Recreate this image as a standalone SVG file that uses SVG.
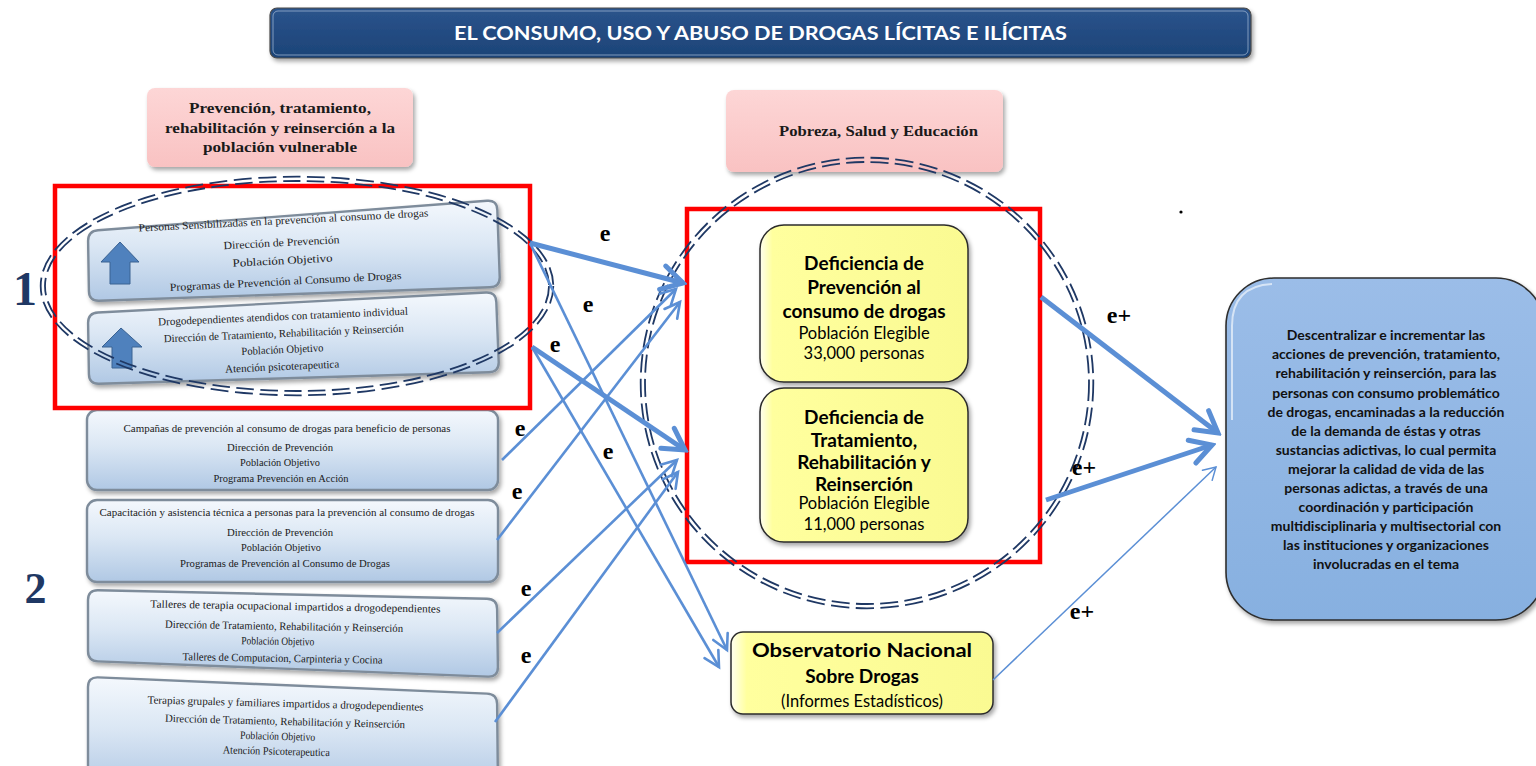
<svg xmlns="http://www.w3.org/2000/svg" width="1536" height="766" viewBox="0 0 1536 766">
<defs>
  <linearGradient id="gBox" x1="0" y1="0" x2="0" y2="1">
    <stop offset="0" stop-color="#f4f8fd"/>
    <stop offset="0.45" stop-color="#dbe7f4"/>
    <stop offset="1" stop-color="#b0c8e4"/>
  </linearGradient>
  <linearGradient id="gTitle" x1="0" y1="0" x2="0" y2="1">
    <stop offset="0" stop-color="#2b548c"/>
    <stop offset="1" stop-color="#1c4377"/>
  </linearGradient>
  <linearGradient id="gPink" x1="0" y1="0" x2="0" y2="1">
    <stop offset="0" stop-color="#fdd6d6"/>
    <stop offset="1" stop-color="#f9c2c2"/>
  </linearGradient>
  <linearGradient id="gYellow" x1="0" y1="0" x2="1" y2="0">
    <stop offset="0" stop-color="#fffff0"/>
    <stop offset="0.06" stop-color="#ffff9e"/>
    <stop offset="1" stop-color="#fafa92"/>
  </linearGradient>
  <linearGradient id="gRight" x1="0" y1="0" x2="0" y2="1">
    <stop offset="0" stop-color="#9bbde8"/>
    <stop offset="1" stop-color="#87b0e0"/>
  </linearGradient>
  <filter id="sh" x="-10%" y="-10%" width="120%" height="130%">
    <feDropShadow dx="2" dy="3" stdDeviation="2" flood-color="#000" flood-opacity="0.35"/>
  </filter>
  <marker id="aThick" viewBox="-26 -15 30 30" refX="0" refY="0" markerWidth="30" markerHeight="30" markerUnits="userSpaceOnUse" orient="auto">
    <path d="M -21,-12 L 0,0 L -21,12" fill="none" stroke="#5b8fd5" stroke-width="5" stroke-linecap="round" stroke-linejoin="miter"/>
  </marker>
  <marker id="aThin" viewBox="-20 -12 24 24" refX="0" refY="0" markerWidth="24" markerHeight="24" markerUnits="userSpaceOnUse" orient="auto">
    <path d="M -15,-8 L 0,0 L -15,8" fill="none" stroke="#5b8fd5" stroke-width="2.6" stroke-linecap="round"/>
  </marker>
  <marker id="aHair" viewBox="-16 -10 20 20" refX="0" refY="0" markerWidth="20" markerHeight="20" markerUnits="userSpaceOnUse" orient="auto">
    <path d="M -12,-7 L 0,0 L -12,7" fill="none" stroke="#5b8fd5" stroke-width="1.5" stroke-linecap="round"/>
  </marker>
</defs>
<style>
  .bx{fill:url(#gBox);stroke:#7e8c9b;stroke-width:2.4;filter:url(#sh)}
  .bt{font-family:"Liberation Serif",serif;font-size:11px;fill:#1b1b1b;text-anchor:middle}
  .red{fill:none;stroke:#ff0000;stroke-width:4.5}
  .dl{fill:none;stroke:#1f3864;stroke-width:1.8}
  .thick{stroke:#5b8fd5;stroke-width:5;fill:none;marker-end:url(#aThick)}
  .thin{stroke:#5b8fd5;stroke-width:2.6;fill:none;marker-end:url(#aThin)}
  .hair{stroke:#5b8fd5;stroke-width:1.5;fill:none;marker-end:url(#aHair)}
  .lbl{font-family:"Liberation Serif",serif;font-weight:bold;font-size:24px;fill:#000;text-anchor:middle}
  .pk{fill:url(#gPink);filter:url(#sh)}
  .pt{font-family:"Liberation Serif",serif;font-weight:bold;font-size:15px;fill:#1a1a1a;text-anchor:middle}
  .yb{fill:url(#gYellow);stroke:#2b2b2b;stroke-width:1.5;filter:url(#sh)}
  .yt{font-family:Lato,"Liberation Sans",sans-serif;font-weight:bold;font-size:19px;fill:#000;text-anchor:middle}
  .yr{font-family:Lato,"Liberation Sans",sans-serif;font-size:16.5px;fill:#000;text-anchor:middle}
  .rt{font-family:Lato,"Liberation Sans",sans-serif;font-weight:bold;font-size:14px;fill:#111;text-anchor:middle}
  .num{font-family:"Liberation Serif",serif;font-weight:bold;fill:#1f3864;text-anchor:middle}
  .up{fill:#4f81bd;stroke:#3a6292;stroke-width:1}
</style>

<rect width="1536" height="766" fill="#ffffff"/>

<g id="title">
  <rect x="270" y="8" width="981" height="50" rx="7" fill="url(#gTitle)" stroke="#4a4a4a" stroke-width="1.2" filter="url(#sh)"/>
  <rect x="273" y="11" width="975" height="44" rx="5" fill="none" stroke="#a9bdd8" stroke-width="1" opacity="0.7"/>
  <text x="760.5" y="40" font-family="Lato,'Liberation Sans',sans-serif" font-weight="bold" font-size="19px" fill="#ffffff" text-anchor="middle" textLength="613" lengthAdjust="spacingAndGlyphs">EL CONSUMO, USO Y ABUSO DE DROGAS LÍCITAS E ILÍCITAS</text>
</g>

<g id="pink-left">
  <rect class="pk" x="147" y="88" width="266" height="79" rx="8"/>
  <text class="pt" x="280" y="113" textLength="182" lengthAdjust="spacingAndGlyphs">Prevención, tratamiento,</text>
  <text class="pt" x="280" y="133" textLength="230" lengthAdjust="spacingAndGlyphs">rehabilitación y reinserción a la</text>
  <text class="pt" x="280" y="152" textLength="154" lengthAdjust="spacingAndGlyphs">población vulnerable</text>
</g>

<g id="pink-right">
  <rect class="pk" x="726" y="90" width="277" height="82" rx="8"/>
  <text class="pt" x="878.5" y="136" textLength="199" lengthAdjust="spacingAndGlyphs">Pobreza, Salud y Educación</text>
</g>

<g id="box-a">
  <path class="bx" d="M 98,230.2 L 487,200.8 Q 497,200 497.3,210 L 499.7,277 Q 500,287 490,287.3 L 99,300.7 Q 89,301 88.9,291 L 88.1,241 Q 88,231 98,230.2 Z"/>
  <polygon class="up" points="120,242 139,262 130,262 130,284 110,284 110,262 101,262"/>
  <g transform="rotate(-3 285 250)">
    <text class="bt" x="285" y="224" font-size="10.5px" textLength="290" lengthAdjust="spacingAndGlyphs">Personas  Sensibilizadas en la prevención  al consumo de drogas</text>
    <text class="bt" x="282" y="246" textLength="116" lengthAdjust="spacingAndGlyphs">Dirección de Prevención</text>
    <text class="bt" x="282" y="264" textLength="100" lengthAdjust="spacingAndGlyphs">Población Objetivo</text>
    <text class="bt" x="284" y="285" textLength="232" lengthAdjust="spacingAndGlyphs">Programas  de Prevención al Consumo de Drogas</text>
  </g>
</g>

<g id="box-b">
  <path class="bx" d="M 98,312.5 L 486,292.5 Q 496,292 496.3,302 L 498.7,362 Q 499,372 489,372.3 L 99,383.7 Q 89,384 88.9,374 L 88.1,323 Q 88,313 98,312.5 Z"/>
  <polygon class="up" points="121,328 142,347 132,347 132,368 112,368 112,347 102,347"/>
  <g transform="rotate(-2.5 285 340)">
    <text class="bt" x="284" y="320" font-size="10.5px" textLength="250" lengthAdjust="spacingAndGlyphs">Drogodependientes atendidos con tratamiento individual</text>
    <text class="bt" x="284" y="337" textLength="240" lengthAdjust="spacingAndGlyphs">Dirección de Tratamiento, Rehabilitación y Reinserción</text>
    <text class="bt" x="282" y="353" textLength="82" lengthAdjust="spacingAndGlyphs">Población Objetivo</text>
    <text class="bt" x="281" y="370" textLength="114" lengthAdjust="spacingAndGlyphs">Atención psicoterapeutica</text>
  </g>
</g>

<g id="box-c">
  <rect class="bx" x="87" y="410" width="411" height="80" rx="10"/>
  <text class="bt" x="287" y="432" textLength="327" lengthAdjust="spacingAndGlyphs">Campañas de prevención al consumo de drogas para beneficio de personas</text>
  <text class="bt" x="280" y="451" textLength="106" lengthAdjust="spacingAndGlyphs">Dirección de Prevención</text>
  <text class="bt" x="280" y="466" textLength="80" lengthAdjust="spacingAndGlyphs">Población Objetivo</text>
  <text class="bt" x="281" y="482" textLength="135" lengthAdjust="spacingAndGlyphs" fill="#333">Programa Prevención en Acción</text>
</g>

<g id="box-d">
  <rect class="bx" x="87" y="500" width="411" height="82" rx="10"/>
  <text class="bt" x="287" y="516" textLength="375" lengthAdjust="spacingAndGlyphs">Capacitación y asistencia técnica a personas para la prevención al consumo de drogas</text>
  <text class="bt" x="280" y="536" textLength="106" lengthAdjust="spacingAndGlyphs">Dirección de Prevención</text>
  <text class="bt" x="281" y="551" textLength="80" lengthAdjust="spacingAndGlyphs">Población Objetivo</text>
  <text class="bt" x="285" y="567" textLength="210" lengthAdjust="spacingAndGlyphs">Programas de Prevención al Consumo de Drogas</text>
</g>

<g id="box-e">
  <path class="bx" d="M 98,590.2 L 487,598.8 Q 497,599 497.1,609 L 497.9,667 Q 498,677 488,676.6 L 98,661.4 Q 88,661 88,651 L 88,600 Q 88,590 98,590.2 Z"/>
  <g transform="rotate(1 290 630)">
    <text class="bt" x="295" y="610" textLength="290" lengthAdjust="spacingAndGlyphs">Talleres de terapia ocupacional  impartidos a drogodependientes</text>
    <text class="bt" x="284" y="630" textLength="238" lengthAdjust="spacingAndGlyphs">Dirección de Tratamiento, Rehabilitación y Reinserción</text>
    <text class="bt" x="278" y="645" textLength="73" lengthAdjust="spacingAndGlyphs">Población Objetivo</text>
    <text class="bt" x="283" y="662" textLength="200" lengthAdjust="spacingAndGlyphs">Talleres de Computacion, Carpinteria y Cocina</text>
  </g>
</g>

<g id="box-f">
  <path class="bx" d="M 98,677.4 L 487,693.6 Q 497,694 497.1,704 L 498,790 L 88,790 L 88,687 Q 88,677 98,677.4 Z"/>
  <g transform="rotate(1.5 285 725)">
    <text class="bt" x="285" y="707" textLength="276" lengthAdjust="spacingAndGlyphs">Terapias grupales y familiares impartidos a drogodependientes</text>
    <text class="bt" x="285" y="725" textLength="240" lengthAdjust="spacingAndGlyphs">Dirección de Tratamiento, Rehabilitación y Reinserción</text>
    <text class="bt" x="278" y="740" textLength="75" lengthAdjust="spacingAndGlyphs">Población Objetivo</text>
    <text class="bt" x="277" y="755" textLength="107" lengthAdjust="spacingAndGlyphs">Atención Psicoterapeutica</text>
  </g>
</g>

<g id="group-1">
  <rect class="red" x="55" y="186" width="475" height="222"/>
  <ellipse class="dl" cx="297" cy="286" rx="256.3" ry="109.3" pathLength="1000" stroke-dasharray="15 5.5"/>
  <ellipse class="dl" cx="297" cy="286" rx="252" ry="105" pathLength="1000" stroke-dasharray="15 5.5"/>
  <text class="num" x="25" y="305" font-size="48px">1</text>
</g>

<g id="label-2">
  <text class="num" x="35.5" y="603" font-size="44px">2</text>
</g>

<g id="group-center">
  <rect class="red" x="687" y="209" width="353" height="353"/>
  <ellipse class="dl" cx="867" cy="383" rx="226.3" ry="225.3" pathLength="1000" stroke-dasharray="13 4.5"/>
  <ellipse class="dl" cx="867" cy="383" rx="222" ry="221" pathLength="1000" stroke-dasharray="13 4.5"/>
</g>

<g id="def-prevencion">
  <rect class="yb" x="760" y="225" width="208" height="157" rx="24"/>
  <text class="yt" x="864" y="270">Deficiencia de</text>
  <text class="yt" x="864" y="294">Prevención al</text>
  <text class="yt" x="864" y="318">consumo de drogas</text>
  <text class="yr" x="864" y="339">Población Elegible</text>
  <text class="yr" x="864" y="359">33,000 personas</text>
</g>

<g id="def-tratamiento">
  <rect class="yb" x="760" y="388" width="208" height="154" rx="24"/>
  <text class="yt" x="864" y="424">Deficiencia de</text>
  <text class="yt" x="864" y="447">Tratamiento,</text>
  <text class="yt" x="864" y="469">Rehabilitación y</text>
  <text class="yt" x="864" y="491">Reinserción</text>
  <text class="yr" x="864" y="509">Población Elegible</text>
  <text class="yr" x="864" y="530">11,000 personas</text>
</g>

<g id="observatorio">
  <rect class="yb" x="731" y="632" width="262" height="82" rx="12"/>
  <text class="yt" x="862" y="657" font-size="22px" textLength="220" lengthAdjust="spacingAndGlyphs">Observatorio Nacional</text>
  <text class="yt" x="862" y="683" font-size="22px">Sobre Drogas</text>
  <text class="yr" x="862" y="707" font-size="18.5px">(Informes  Estadísticos)</text>
</g>

<g id="objetivo">
  <rect x="1226" y="278" width="318" height="342" rx="48" fill="url(#gRight)" stroke="#2e2e2e" stroke-width="1.6" filter="url(#sh)"/>
  <path d="M 1232,420 L 1232,326 Q 1232,286 1272,284" fill="none" stroke="#ffffff" stroke-width="2" opacity="0.6"/>
  <text class="rt" x="1386" y="340">Descentralizar e incrementar las</text>
  <text class="rt" x="1386" y="359">acciones de prevención, tratamiento,</text>
  <text class="rt" x="1386" y="378">rehabilitación  y reinserción, para las</text>
  <text class="rt" x="1386" y="398">personas con consumo problemático</text>
  <text class="rt" x="1386" y="417">de drogas, encaminadas  a la reducción</text>
  <text class="rt" x="1386" y="436">de la demanda de éstas y otras</text>
  <text class="rt" x="1386" y="455">sustancias adictivas, lo cual permita</text>
  <text class="rt" x="1386" y="474">mejorar la calidad de vida de las</text>
  <text class="rt" x="1386" y="493">personas adictas, a través de una</text>
  <text class="rt" x="1386" y="512">coordinación  y participación</text>
  <text class="rt" x="1386" y="531">multidisciplinaria  y multisectorial con</text>
  <text class="rt" x="1386" y="550">las instituciones y organizaciones</text>
  <text class="rt" x="1386" y="569">involucradas  en el tema</text>
</g>

<g id="connectors">
  <line class="thin" x1="530" y1="243" x2="727" y2="650"/>
  <line class="thin" x1="532" y1="347" x2="719" y2="667"/>
  <line class="thin" x1="502" y1="460" x2="676" y2="289"/>
  <line class="thin" x1="497" y1="540" x2="680" y2="302"/>
  <line class="thin" x1="497" y1="633" x2="677" y2="460"/>
  <line class="thin" x1="495" y1="722" x2="678" y2="472"/>
  <line class="thick" x1="530" y1="243" x2="683" y2="283"/>
  <line class="thick" x1="532" y1="347" x2="685" y2="450"/>
  <line class="thick" x1="1041" y1="297" x2="1218" y2="433"/>
  <line class="thick" x1="1046" y1="500" x2="1212" y2="445"/>
  <line class="hair" x1="993" y1="680" x2="1216" y2="467"/>
  <text class="lbl" x="605" y="241">e</text>
  <text class="lbl" x="588" y="312">e</text>
  <text class="lbl" x="555" y="352">e</text>
  <text class="lbl" x="520" y="436">e</text>
  <text class="lbl" x="608" y="459">e</text>
  <text class="lbl" x="517" y="499">e</text>
  <text class="lbl" x="526" y="596">e</text>
  <text class="lbl" x="526" y="663">e</text>
  <text class="lbl" x="1119" y="323">e+</text>
  <text class="lbl" x="1084" y="475">e+</text>
  <text class="lbl" x="1082" y="619">e+</text>
</g>

<circle id="dot" cx="1181" cy="212" r="1.6" fill="#000"/>
</svg>
